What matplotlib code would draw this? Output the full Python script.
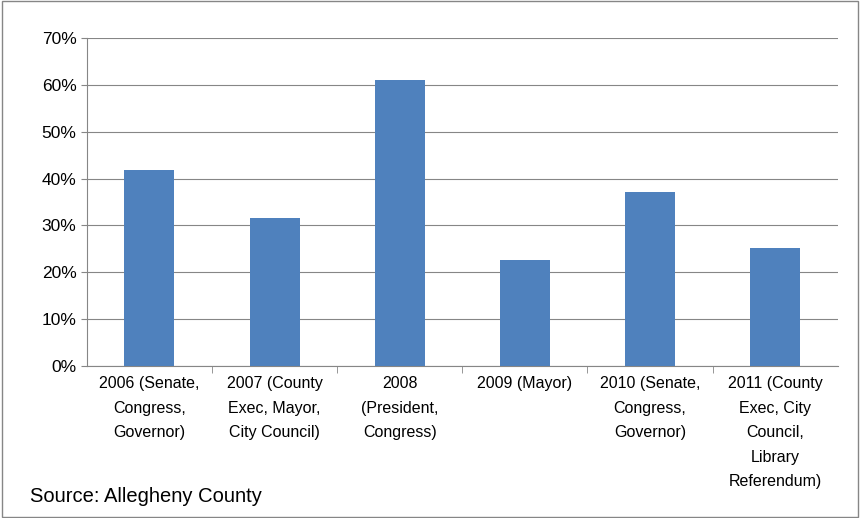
import matplotlib
matplotlib.use("Agg")
import matplotlib.pyplot as plt

labels = ["2006 (Senate,\nCongress,\nGovernor)", "2007 (County\nExec, Mayor,\nCity Council)",
          "2008\n(President,\nCongress)", "2009 (Mayor)", "2010 (Senate,\nCongress,\nGovernor)",
          "2011 (County\nExec, City\nCouncil,\nLibrary\nReferendum)"]
turnout = [41.8, 31.6, 61.0, 22.6, 37.1, 25.2]

plt.rcParams['font.family'] = ['Liberation Sans', 'DejaVu Sans']

fig = plt.figure(figsize=(8.6, 5.18), dpi=100)
ax = fig.add_axes([0.101, 0.293, 0.873, 0.634])
x = range(len(turnout))
ax.bar(x, turnout, width=0.4, color="#4F81BD", zorder=3)
ax.set_xlim(-0.5, len(turnout) - 0.5)
ax.set_ylim(0, 70)
ax.set_yticks(range(0, 71, 10))
ax.set_yticklabels([f"{v}%" for v in range(0, 71, 10)], fontsize=12.5)
ax.set_xticks(list(x))
ax.set_xticklabels(labels, fontsize=11.5, va="top", linespacing=1.8)
ax.tick_params(axis="x", length=0, pad=7)
ax.tick_params(axis="y", length=4, color="#868686")
ax.set_xticks([i + 0.5 for i in range(len(turnout) - 1)], minor=True)
ax.tick_params(axis="x", which="minor", length=5, color="#868686")
ax.grid(axis="y", color="#868686", linewidth=0.8, zorder=0)
for s in ["top", "right"]:
    ax.spines[s].set_visible(False)
for s in ["left", "bottom"]:
    ax.spines[s].set_color("#868686")

fig.text(0.035, 0.03, "Source: Allegheny County", fontsize=14.5)
fig.patches.append(plt.Rectangle((0.002, 0.002), 0.996, 0.996, transform=fig.transFigure,
                                 fill=False, edgecolor="#868686", linewidth=1))
fig.savefig("out.png", dpi=100)
